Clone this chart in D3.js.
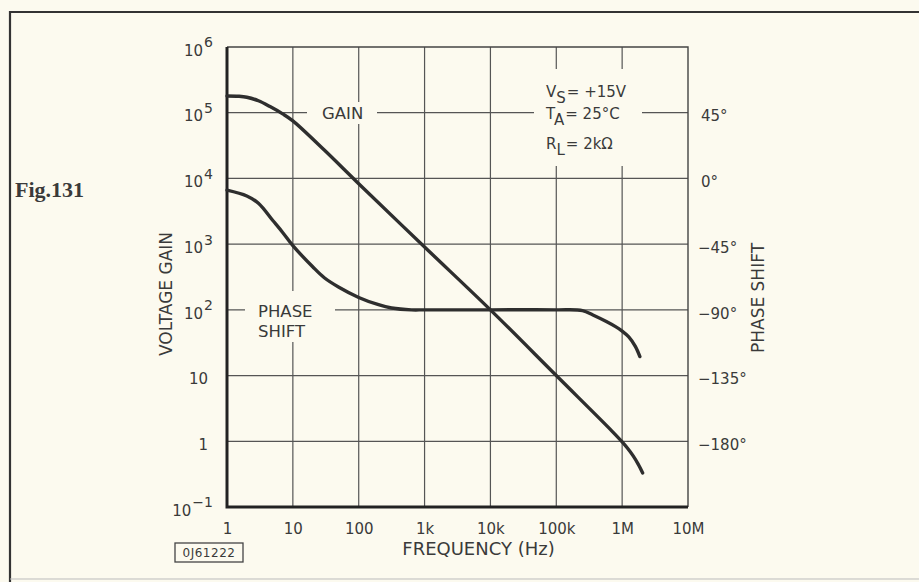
<!DOCTYPE html>
<html>
<head>
<meta charset="utf-8">
<script src="https://cdn.jsdelivr.net/npm/d3@7"></script>
<style>
  html, body { margin: 0; padding: 0; background: #fcfaef; }
  svg { display: block; }
  text { font-family: "DejaVu Sans", sans-serif; fill: #3a3a3a; }
</style>
</head>
<body>
<svg id="chart" width="919" height="582"></svg>
<script>
// Frequency axis (Hz)
const freqTicks = [1, 10, 100, 1e3, 1e4, 1e5, 1e6, 1e7];
const freqLabels = ["1", "10", "100", "1k", "10k", "100k", "1M", "10M"];

// Voltage gain axis: base and exponent for each decade
const gainTicks = [1e-1, 1, 10, 1e2, 1e3, 1e4, 1e5, 1e6];
const gainBase = ["10", "1", "10", "10", "10", "10", "10", "10"];
const gainExp = ["\u22121", "", "", "2", "3", "4", "5", "6"];

// Phase shift axis (degrees)
const phaseTicks = [45, 0, -45, -90, -135, -180];

// Open-loop gain curve
const gainFreq = [1, 1.5, 2, 3, 4.5, 7, 10, 30, 100, 1e3, 1e4, 1e5, 7e5, 1e6, 1.2e6, 1.47e6, 1.75e6, 2.05e6];
const gainVals = [1.8e5, 1.78e5, 1.72e5, 1.52e5, 1.24e5, 9.6e4, 7.5e4, 2.7e4, 8.3e3, 9.05e2, 100, 10, 1.43, 0.98, 0.79, 0.6, 0.45, 0.33];

// Phase shift curve
const phaseFreq = [1, 2, 3, 5, 7, 10, 20, 30, 50, 100, 200, 316, 630, 1e3, 1e4, 1e5, 2.5e5, 3.6e5, 5.75e5, 7.94e5, 1e6, 1.26e6, 1.585e6, 1.86e6];
const phaseVals = [-8, -12, -17, -29, -37, -46, -60.5, -68, -74.5, -81.5, -86.5, -88.7, -90, -90, -90, -90, -90.5, -93.5, -98, -101.5, -104.5, -108.5, -115, -122];

const svg = d3.select("#chart");
const L = 227, R = 688, T = 47, B = 507;

const x = d3.scaleLog().domain([1, 1e7]).range([L, R]);
const y = d3.scaleLog().domain([1e-1, 1e6]).range([B, T]);
const yPhase = d3.scaleLinear().domain([-225, 90]).range([B, T]);

const ink = "#2e2e2e";
const bg = "#fcfaef";

// page frame
svg.append("path")
  .attr("d", `M10,582 L10,12 L919,12`)
  .attr("fill", "none").attr("stroke", "#333").attr("stroke-width", 2.2);
svg.append("line").attr("x1", 10).attr("x2", 919).attr("y1", 579).attr("y2", 579)
  .attr("stroke", "#bbb").attr("stroke-width", 1);

// grid
const grid = svg.append("g").attr("stroke", "#555").attr("stroke-width", 1.2);
grid.selectAll("line.v").data(freqTicks.slice(1, -1)).join("line")
  .attr("x1", d => x(d)).attr("x2", d => x(d)).attr("y1", T).attr("y2", B);
grid.selectAll("line.h").data(gainTicks.slice(1, -1)).join("line")
  .attr("x1", L).attr("x2", R).attr("y1", d => y(d)).attr("y2", d => y(d));

// frame of the plot: thin top/right, heavy left/bottom
svg.append("path").attr("d", `M${L},${T} L${R},${T} L${R},${B}`)
  .attr("fill", "none").attr("stroke", "#444").attr("stroke-width", 1.4);

// clear areas behind the in-plot labels
const clear = svg.append("g").attr("fill", bg);
clear.append("rect").attr("x", 307).attr("y", 102).attr("width", 70).attr("height", 22);
clear.append("rect").attr("x", 245).attr("y", 291).attr("width", 90).attr("height", 51);
clear.append("rect").attr("x", 534).attr("y", 69).attr("width", 108).attr("height", 97);

svg.append("path").attr("d", `M${L},${T} L${L},${B} L${R},${B}`)
  .attr("fill", "none").attr("stroke", "#222").attr("stroke-width", 3);

// curves
const lineGain = d3.line().x((d, i) => x(gainFreq[i])).y(d => y(d)).curve(d3.curveCatmullRom.alpha(0.5));
const linePhase = d3.line().x((d, i) => x(phaseFreq[i])).y(d => yPhase(d)).curve(d3.curveCatmullRom.alpha(0.5));

svg.append("path").attr("d", lineGain(gainVals))
  .attr("fill", "none").attr("stroke", ink).attr("stroke-width", 3.4)
  .attr("stroke-linecap", "round").attr("stroke-linejoin", "round");
svg.append("path").attr("d", linePhase(phaseVals))
  .attr("fill", "none").attr("stroke", ink).attr("stroke-width", 3.4)
  .attr("stroke-linecap", "round").attr("stroke-linejoin", "round");

// bottom axis
const xAxis = d3.axisBottom(x).tickValues(freqTicks)
  .tickFormat((d, i) => freqLabels[i]).tickSize(0).tickPadding(16);
const gx = svg.append("g").attr("transform", `translate(0,${B})`).call(xAxis);
gx.select(".domain").remove();
gx.selectAll("text").attr("font-size", 15).style("font-family", "DejaVu Sans, sans-serif").attr("fill", "#3a3a3a");

// left axis with powers of ten
const yAxis = d3.axisLeft(y).tickValues(gainTicks).tickFormat(() => "").tickSize(0);
const gy = svg.append("g").attr("transform", `translate(${L},0)`).call(yAxis);
gy.select(".domain").remove();
gy.selectAll(".tick text").each(function (d, i) {
  const t = d3.select(this).text(null)
    .attr("x", gainExp[i] ? -14 : -19).attr("dy", "0.55em")
    .attr("text-anchor", "end").attr("font-size", 15)
    .style("font-family", "DejaVu Sans, sans-serif").attr("fill", "#3a3a3a");
  t.append("tspan").text(gainBase[i]);
  if (gainExp[i]) {
    t.append("tspan").text(gainExp[i]).attr("dy", "-0.6em").attr("font-size", 14).attr("dx", 1);
  }
});

// right axis (phase)
const pAxis = d3.axisRight(yPhase).tickValues(phaseTicks)
  .tickFormat(d => (d < 0 ? "\u2212" + Math.abs(d) : d) + "\u00b0").tickSize(0).tickPadding(0);
const gp = svg.append("g").attr("transform", `translate(${R},0)`).call(pAxis);
gp.select(".domain").remove();
gp.selectAll("text").attr("x", d => d < 0 ? 10 : 13).attr("dy", "0.55em").attr("text-anchor", "start")
  .attr("font-size", 15).style("font-family", "DejaVu Sans, sans-serif").attr("fill", "#3a3a3a");

// axis titles
svg.append("text").attr("x", (x(1e3) + x(1e4)) / 2 + 21).attr("y", 555)
  .attr("text-anchor", "middle").attr("font-size", 18).text("FREQUENCY (Hz)");
svg.append("text").attr("transform", "translate(172,294) rotate(-90)")
  .attr("text-anchor", "middle").attr("font-size", 17).text("VOLTAGE GAIN");
svg.append("text").attr("transform", "translate(764,298) rotate(-90)")
  .attr("text-anchor", "middle").attr("font-size", 17).text("PHASE SHIFT");

// curve labels
svg.append("text").attr("x", 322).attr("y", 119).attr("font-size", 16.5).text("GAIN");
svg.append("text").attr("x", 258).attr("y", 317).attr("font-size", 16.5).text("PHASE");
svg.append("text").attr("x", 258).attr("y", 337).attr("font-size", 16.5).text("SHIFT");

// test conditions
const cond = [
  { main: "V", sub: "S", rest: "= +15V", yb: 97 },
  { main: "T", sub: "A", rest: "=  25\u00b0C", yb: 119 },
  { main: "R", sub: "L", rest: "=  2k\u03a9", yb: 149 }
];
cond.forEach(c => {
  const t = svg.append("text").attr("x", 546).attr("y", c.yb).attr("font-size", 15);
  t.append("tspan").text(c.main);
  t.append("tspan").text(c.sub).attr("dy", 6);
  t.append("tspan").text(c.rest).attr("dy", -6).attr("dx", 1);
});

// figure number
svg.append("text").attr("x", 15).attr("y", 197)
  .style("font-family", "Liberation Serif, serif").attr("font-weight", "bold")
  .attr("font-size", 22).attr("fill", "#111").text("Fig.131");

// drawing reference
svg.append("rect").attr("x", 175).attr("y", 543).attr("width", 68).attr("height", 19)
  .attr("fill", "none").attr("stroke", "#444").attr("stroke-width", 1.3);
svg.append("text").attr("x", 209).attr("y", 557).attr("text-anchor", "middle")
  .attr("font-size", 12).attr("letter-spacing", 0.5).text("0J61222");
</script>
</body>
</html>
